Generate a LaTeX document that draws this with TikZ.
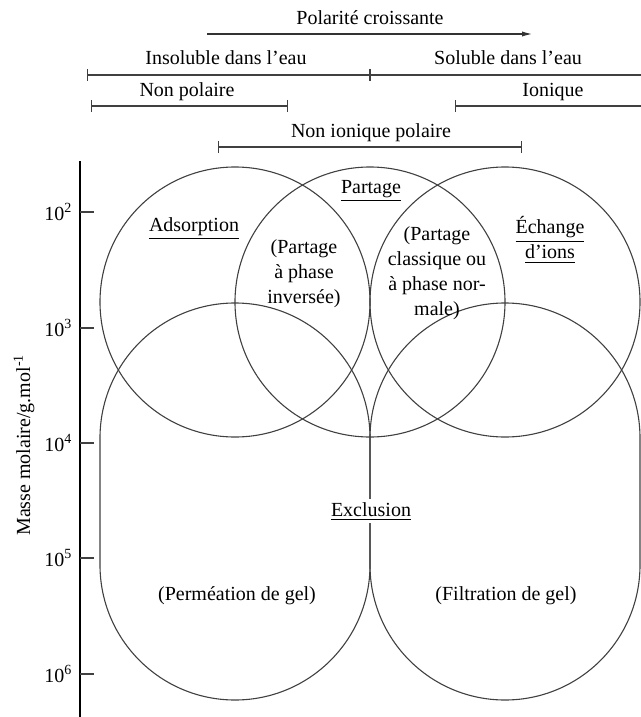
\documentclass[tikz,border=0pt]{standalone}
\usepackage{fontspec}
\setmainfont{Liberation Serif}
\usetikzlibrary{arrows.meta}

\begin{document}
\begin{tikzpicture}[x=0.5pt, y=-0.5pt, line width=0.55pt,
	every node/.style={font=\fontsize{10}{12.5}\selectfont, inner sep=0pt, align=center},
	ring/.style={draw=black!75},
	spanbar/.style={draw=black!75, {Bar[width=6pt]}-{Bar[width=6pt]}},
	openbar/.style={draw=black!75, {Bar[width=6pt]}-}]
	\useasboundingbox (0,0) rectangle (641,717);

	% polarity scale
	\node[anchor=base] (pol) at (370,25) {Polarité croissante};
	\coordinate (pa) at (207,34);
	\coordinate (pb) at (532,34);
	\draw[black!80, -{Latex[length=5pt, width=2.6pt]}] (pa) -- (pb);

	\node[anchor=base] (insol) at (226,65) {Insoluble dans l’eau};
	\node[anchor=base] (sol) at (508,65) {Soluble dans l’eau};
	\coordinate (w0) at (87,75);
	\coordinate (w1) at (370,75);
	\coordinate (w2) at (641,75);
	\draw[spanbar] (w0) -- (w1);
	\draw[openbar] (w1) -- (w2);

	\node[anchor=base] (nonpol) at (187,97) {Non polaire};
	\node[anchor=base] (ion) at (553,97) {Ionique};
	\coordinate (n0) at (91,106);
	\coordinate (n1) at (288,106);
	\coordinate (i0) at (455,106);
	\coordinate (i1) at (641,106);
	\draw[spanbar] (n0) -- (n1);
	\draw[openbar] (i0) -- (i1);

	\node[anchor=base] (nip) at (371,138) {Non ionique polaire};
	\coordinate (p0) at (218,147);
	\coordinate (p1) at (522,147);
	\draw[spanbar] (p0) -- (p1);

	% molar mass axis
	\draw[line width=1.1pt] (80,161) -- (80,717);
	\foreach \e/\y in {2/212, 3/328, 4/443, 5/558, 6/674} {
		\draw[black!75] (80,\y) -- (94,\y);
		\node[anchor=east] (t\e) at (73,\y) {10\textsuperscript{\e}};
	}
	\node[rotate=90] (mm) at (24,445) {Masse molaire/g.mol\textsuperscript{-1}};

	% top circles
	\foreach \cx in {235, 370, 505}
		\draw[ring] (\cx,302) circle[radius=67.5pt];

	% exclusion regions
	\foreach \cx in {235, 505}
		\draw[ring] (\cx-135,438) arc[start angle=180, end angle=0, radius=67.5pt]
			-- (\cx+135,565) arc[start angle=0, end angle=-180, radius=67.5pt] -- cycle;

	% labels
	\node[anchor=base] (ads) at (194,231) {\underline{Adsorption}};
	\node[anchor=base] (part) at (371,193) {\underline{Partage}};
	\node (inv) at (304,274) {(Partage\\à phase\\inversée)};
	\node (norm) at (437,273) {(Partage\\classique ou\\à phase nor-\\male)};
	\node (ech) at (550,240) {\underline{Échange}\\\underline{d’ions}};
	\node[anchor=base, fill=white, inner sep=1.5pt] (excl) at (371,516) {\underline{Exclusion}};
	\node[anchor=base] (perm) at (237,600) {(Perméation de gel)};
	\node[anchor=base] (filt) at (506,600) {(Filtration de gel)};
\end{tikzpicture}
\end{document}
